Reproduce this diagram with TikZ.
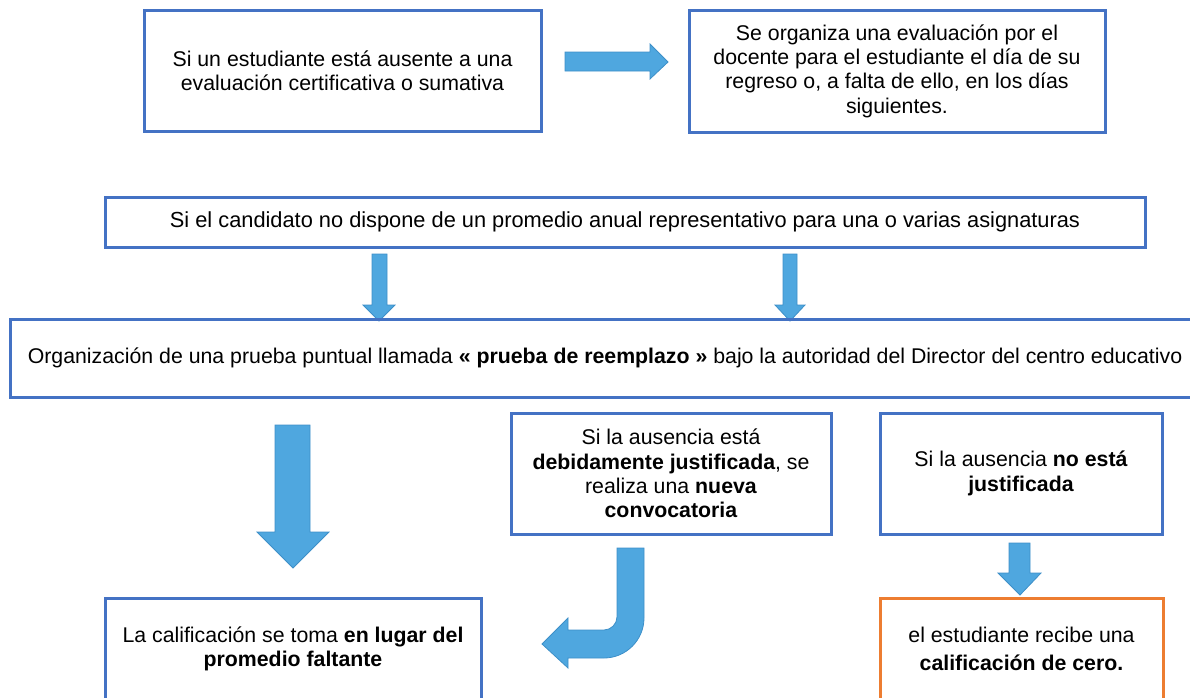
\documentclass[tikz,border=0pt]{standalone}
\usepackage{fontspec}
\setmainfont{Liberation Sans}
\definecolor{boxblue}{HTML}{4472C4}
\definecolor{boxorange}{HTML}{ED7D31}
\definecolor{arrowfill}{HTML}{4FA7DF}
\definecolor{arrowedge}{HTML}{3D8FC8}
\begin{document}
\begin{tikzpicture}[x=1pt,y=-1pt,
  box/.style={draw=boxblue, line width=3pt, inner sep=0pt, align=center,
    font=\fontsize{21.3}{24.4}\selectfont},
  orangebox/.style={box, draw=boxorange},
  blockarrow/.style={fill=arrowfill, draw=arrowedge, line width=0.8pt, line join=miter}]
\useasboundingbox (0,0) rectangle (1190,697);
% block arrows
\draw[blockarrow] (565,52) -- (650,52) -- (650,44) -- (668,62) -- (650,79) -- (650,71) -- (565,71) -- cycle;
\draw[blockarrow] (372,254) -- (387,254) -- (387,305) -- (395,305) -- (379,321) -- (363,305) -- (372,305) -- cycle;
\draw[blockarrow] (783,254) -- (797,254) -- (797,305) -- (805,305) -- (790,321) -- (775,305) -- (783,305) -- cycle;
\draw[blockarrow] (275,425) -- (310,425) -- (310,532) -- (329,532) -- (293,568) -- (257,532) -- (275,532) -- cycle;
\draw[blockarrow] (1009,543) -- (1030,543) -- (1030,573) -- (1041,573) -- (1020,595) -- (998,573) -- (1009,573) -- cycle;
\draw[blockarrow] (617,548) -- (644,548) -- (644,618) .. controls (644,640) and (626,658) .. (604,658)
  -- (568,658) -- (568,668) -- (542,644) -- (568,618) -- (568,630) -- (604,630)
  .. controls (611,630) and (617,624) .. (617,617) -- cycle;
% boxes
\node[box, minimum width=397pt, minimum height=121pt] (b1) at (342.5,70.5)
  {Si un estudiante está ausente a una\\evaluación certificativa o sumativa};
\node[box, minimum width=416pt, minimum height=122pt] (b2) at (897,71)
  {Se organiza una evaluación por el\\docente para el estudiante el día de su\\regreso o, a falta de ello, en los días\\siguientes.};
\node[box, minimum width=1040pt, minimum height=50pt, font=\fontsize{21.8}{24.5}\selectfont] (b3) at (625,222)
  {Si el candidato no dispone de un promedio anual representativo para una o varias asignaturas};
\node[box, minimum width=1190pt, minimum height=78pt] (b4) at (605,358)
  {Organización de una prueba puntual llamada \textbf{« prueba de reemplazo »} bajo la autoridad del Director del centro educativo};
\node[box, minimum width=320pt, minimum height=121pt] (b5) at (671,473.5)
  {Si la ausencia está\\\textbf{debidamente justificada}, se\\realiza una \textbf{nueva}\\\textbf{convocatoria}};
\node[box, minimum width=282pt, minimum height=121pt] (b6) at (1021,473.5)
  {Si la ausencia \textbf{no está}\\\textbf{justificada}};
\node[box, minimum width=376pt, minimum height=102pt] (b7) at (293,649)
  {La calificación se toma \textbf{en lugar del}\\\textbf{promedio faltante}};
\node[orangebox, minimum width=283pt, minimum height=102pt] (b8) at (1021.5,649)
  {el estudiante recibe una\\[3pt]\textbf{calificación de cero.}};
\end{tikzpicture}
\end{document}
